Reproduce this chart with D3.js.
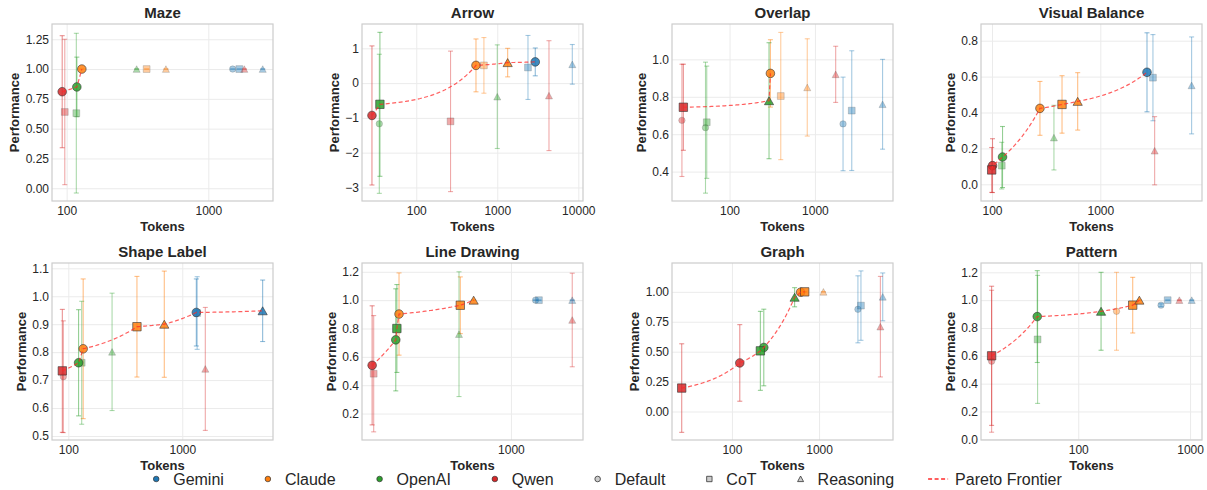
<!DOCTYPE html>
<html>
<head>
<meta charset="utf-8">
<script src="https://cdn.jsdelivr.net/npm/d3@7"></script>
<style>
  body { margin: 0; background: #fff; }
  text { font-family: "Liberation Sans", Arial, sans-serif; fill: #262626; }
</style>
</head>
<body>
<svg id="chart" width="1207" height="490"></svg>
<script>
// panel titles
const tasks = ["Maze", "Arrow", "Overlap", "Visual Balance", "Shape Label", "Line Drawing", "Graph", "Pattern"];
const models = ["Gemini", "Claude", "OpenAI", "Qwen"];
const modes = ["Default", "CoT", "Reasoning"];
const modelColors = ["#1f77b4", "#ff7f0e", "#2ca02c", "#d62728"];

// tokens used, rows = models (Gemini, Claude, OpenAI, Qwen), cols = modes (Default, CoT, Reasoning)
const tokens = [
  [[1486, 1655, 2421], [128, 367, 502], [118, 117, 312], [93, 97, 1795]],
  [[2944, 2393, 8433], [546, 684, 1343], [35, 35.6, 1000], [28.4, 265, 4346]],
  [[2133, 2698, 6194], [301, 398, 813], [52.3, 54.1, 290], [27.7, 28.8, 1749]],
  [[2698, 3062, 6967], [277, 443, 618], [125, 123, 373], [101, 99.3, 3175]],
  [[1328, 1350, 5070], [135, 400, 695], [123, 131, 242], [90.4, 88.6, 1592]],
  [[1436, 1509, 2462], [193, 475, 578], [184, 187, 466], [130, 133, 2462]],
  [[2793, 3026, 5380], [614, 684, 1122], [232, 212, 524], [123, 26.5, 5058]],
  [[550, 631, 1035], [220, 307, 352], [43, 43.3, 160], [16.8, 16.8, 802]]
];

// mean performance
const perf = [
  [[1.0, 1.0, 1.0], [1.0, 1.0, 1.0], [0.85, 0.63, 1.0], [0.81, 0.64, 1.0]],
  [[0.61, 0.45, 0.54], [0.51, 0.51, 0.59], [-1.17, -0.61, -0.39], [-0.93, -1.10, -0.36]],
  [[0.655, 0.726, 0.76], [0.925, 0.804, 0.85], [0.635, 0.664, 0.779], [0.674, 0.744, 0.92]],
  [[0.624, 0.594, 0.551], [0.423, 0.445, 0.462], [0.152, 0.104, 0.26], [0.104, 0.08, 0.187]],
  [[0.942, 0.94, 0.948], [0.812, 0.891, 0.90], [0.762, 0.762, 0.801], [0.712, 0.733, 0.74]],
  [[1.0, 1.0, 1.0], [0.902, 0.964, 1.0], [0.72, 0.80, 0.76], [0.54, 0.481, 0.86]],
  [[0.854, 0.885, 0.958], [0.997, 1.0, 1.0], [0.535, 0.507, 0.955], [0.406, 0.196, 0.709]],
  [[0.964, 1.0, 1.0], [0.92, 0.964, 1.0], [0.882, 0.718, 0.92], [0.561, 0.60, 1.0]]
];

// std (error bar half length)
const errs = [
  [[0, 0, 0], [0, 0, 0], [0.25, 0.67, 0], [0.47, 0.61, 0]],
  [[0.40, 0.92, 0.57], [0.76, 0.80, 0.41], [2.0, 2.07, 1.49], [2.0, 2.02, 1.58]],
  [[0.25, 0.32, 0.24], [0.18, 0.34, 0.26], [0.35, 0.30, 0.31], [0.30, 0.23, 0.15]],
  [[0.22, 0.24, 0.27], [0.15, 0.16, 0.16], [0.17, 0.13, 0.18], [0.15, 0.125, 0.19]],
  [[0.12, 0.13, 0.11], [0.25, 0.18, 0.19], [0.19, 0.22, 0.21], [0.20, 0.22, 0.22]],
  [[0, 0, 0], [0.29, 0.20, 0], [0.36, 0.31, 0.44], [0.42, 0.41, 0.33]],
  [[0.28, 0.29, 0.20], [0.02, 0, 0], [0.32, 0.33, 0.08], [0.32, 0.37, 0.42]],
  [[0.01, 0, 0], [0.28, 0.20, 0], [0.33, 0.46, 0.28], [0.51, 0.50, 0]]
];

// pareto frontier members as [model, mode]
const pareto = [
  [[3, 0], [2, 0], [1, 0]],
  [[3, 0], [2, 1], [1, 0], [1, 2], [0, 0]],
  [[3, 1], [2, 2], [1, 0]],
  [[3, 1], [3, 0], [2, 0], [1, 0], [1, 1], [1, 2], [0, 0]],
  [[3, 1], [2, 0], [1, 0], [1, 1], [1, 2], [0, 0], [0, 2]],
  [[3, 0], [2, 0], [2, 1], [1, 0], [1, 1], [1, 2]],
  [[3, 1], [3, 0], [2, 1], [2, 0], [2, 2], [1, 0], [1, 1]],
  [[3, 1], [2, 0], [2, 2], [1, 1], [1, 2]]
];

// axis ranges and ticks
const xDomains = [[78.8, 2862], [21.4, 11430], [21.2, 8204], [79.1, 8690], [71.9, 6250], [112, 2884], [20.5, 7060], [13.5, 1279]];
const yDomains = [[-0.107, 1.378], [-3.39, 1.70], [0.243, 1.189], [-0.093, 0.893], [0.4856, 1.119], [0.0135, 1.262], [-0.238, 1.241], [-0.005, 1.267]];
const xTicks = [[100, 1000], [100, 1000, 10000], [100, 1000], [100, 1000], [100, 1000], [1000], [100, 1000], [100, 1000]];
const yTicks = [
  [0, 0.25, 0.5, 0.75, 1.0, 1.25],
  [-3, -2, -1, 0, 1],
  [0.4, 0.6, 0.8, 1.0],
  [0, 0.2, 0.4, 0.6, 0.8],
  [0.5, 0.6, 0.7, 0.8, 0.9, 1.0, 1.1],
  [0.2, 0.4, 0.6, 0.8, 1.0, 1.2],
  [0, 0.25, 0.5, 0.75, 1.0],
  [0, 0.2, 0.4, 0.6, 0.8, 1.0, 1.2]
];
const yFormats = [".2f", "d", ".1f", ".1f", ".1f", ".1f", ".2f", ".1f"];

// layout
const colLeft = [52, 362, 672, 981];
const rowTop = [24, 263];
const pw = 221, ph = 177;

const svg = d3.select("#chart");

function markerPath(mode, big) {
  const p = d3.path();
  if (mode === 0) {
    const r = big ? 4.3 : 3.2;
    p.moveTo(r, 0);
    p.arc(0, 0, r, 0, 2 * Math.PI);
  } else if (mode === 1) {
    const h = big ? 4.2 : 3.4;
    p.rect(-h, -h, 2 * h, 2 * h);
  } else {
    const w = big ? 4.6 : 3.5, h = big ? 4.0 : 3.3;
    p.moveTo(0, -h);
    p.lineTo(w, h);
    p.lineTo(-w, h);
    p.closePath();
  }
  return p.toString();
}

// frontier is straight in token units, so sample it densely before it goes on the log axis
function frontierPath(front, x, y) {
  const out = [];
  for (let i = 0; i < front.length - 1; i++) {
    const a = front[i], b = front[i + 1];
    const steps = 40;
    for (let s = 0; s <= steps; s++) {
      if (i > 0 && s === 0) continue;
      const f = s / steps;
      out.push([x(a.tok + f * (b.tok - a.tok)), y(a.v + f * (b.v - a.v))]);
    }
  }
  return d3.line()(out);
}

tasks.forEach((task, t) => {
  const col = t % 4, row = Math.floor(t / 4);
  const g = svg.append("g").attr("transform", `translate(${colLeft[col]},${rowTop[row]})`);

  const x = d3.scaleLog().domain(xDomains[t]).range([0, pw]);
  const y = d3.scaleLinear().domain(yDomains[t]).range([ph, 0]);

  // grid + ticks
  const ya = g.append("g")
    .call(d3.axisLeft(y).tickValues(yTicks[t]).tickSize(-pw).tickPadding(3).tickFormat(d3.format(yFormats[t])));
  const xa = g.append("g").attr("transform", `translate(0,${ph})`)
    .call(d3.axisBottom(x).tickValues(xTicks[t]).tickSize(-ph).tickPadding(5).tickFormat(d3.format("d")));
  [ya, xa].forEach(a => {
    a.select(".domain").remove();
    a.selectAll("line").attr("stroke", "#ebebeb").attr("stroke-width", 1);
    a.selectAll("text").attr("font-size", 12).attr("fill", "#262626");
    a.attr("font-family", null);
  });

  g.append("rect").attr("width", pw).attr("height", ph)
    .attr("fill", "none").attr("stroke", "#cccccc").attr("stroke-width", 1.2);

  // points
  const isPar = (m, k) => pareto[t].some(p => p[0] === m && p[1] === k);
  const pts = [];
  models.forEach((mName, m) => {
    modes.forEach((kName, k) => {
      pts.push({ m, k, tok: tokens[t][m][k], v: perf[t][m][k], e: errs[t][m][k], par: isPar(m, k) });
    });
  });

  // error bars
  const eb = g.append("g").selectAll("g").data(pts).join("g")
    .attr("stroke", d => modelColors[d.m])
    .attr("stroke-opacity", d => d.par ? 0.5 : 0.4)
    .attr("stroke-width", 1.1);
  eb.append("line")
    .attr("x1", d => x(d.tok)).attr("x2", d => x(d.tok))
    .attr("y1", d => y(d.v - d.e)).attr("y2", d => y(d.v + d.e));
  eb.append("line")
    .attr("x1", d => x(d.tok) - 2.5).attr("x2", d => x(d.tok) + 2.5)
    .attr("y1", d => y(d.v - d.e)).attr("y2", d => y(d.v - d.e));
  eb.append("line")
    .attr("x1", d => x(d.tok) - 2.5).attr("x2", d => x(d.tok) + 2.5)
    .attr("y1", d => y(d.v + d.e)).attr("y2", d => y(d.v + d.e));

  // faded points first, frontier points on top
  const ordered = pts.filter(d => !d.par).concat(pts.filter(d => d.par));
  g.append("g").selectAll("path").data(ordered).join("path")
    .attr("transform", d => `translate(${x(d.tok)},${y(d.v)})`)
    .attr("d", d => markerPath(d.k, d.par))
    .attr("fill", d => modelColors[d.m])
    .attr("fill-opacity", d => d.par ? 0.85 : 0.4)
    .attr("stroke", d => d.par ? "#333" : "#666")
    .attr("stroke-opacity", d => d.par ? 0.75 : 0.35)
    .attr("stroke-width", 0.8);

  // pareto frontier
  const front = pts.filter(d => d.par).sort((a, b) => a.tok - b.tok);
  g.append("path")
    .attr("d", frontierPath(front, x, y))
    .attr("fill", "none")
    .attr("stroke", "#ff2a2a")
    .attr("stroke-opacity", 0.75)
    .attr("stroke-width", 1.2)
    .attr("stroke-dasharray", "4,2.5");

  // title and axis labels
  g.append("text").attr("x", pw / 2).attr("y", -6)
    .attr("text-anchor", "middle").attr("font-size", 15).attr("font-weight", "bold")
    .text(task);
  g.append("text").attr("x", pw / 2).attr("y", ph + 30)
    .attr("text-anchor", "middle").attr("font-size", 13).attr("font-weight", "bold")
    .text("Tokens");
  let maxW = 0;
  ya.selectAll("text").each(function () { maxW = Math.max(maxW, this.getComputedTextLength()); });
  g.append("text")
    .attr("transform", `translate(${-3 - maxW - 6.7},${ph / 2}) rotate(-90)`)
    .attr("text-anchor", "middle").attr("font-size", 13).attr("font-weight", "bold")
    .text("Performance");
});

// legend
const legendItems = models.map((m, i) => ({ label: m, kind: "model", i }))
  .concat(modes.map((m, i) => ({ label: m, kind: "mode", i })))
  .concat([{ label: "Pareto Frontier", kind: "line" }]);

const leg = svg.append("g");
const items = leg.selectAll("g").data(legendItems).join("g");
items.append("text").attr("x", 27).attr("y", 0).attr("dy", "0.35em")
  .attr("font-size", 16).text(d => d.label);
let cx = 0;
items.each(function (d) {
  const w = 27 + d3.select(this).select("text").node().getComputedTextLength();
  d.x = cx;
  cx += w + 34;
});
const total = cx - 34;
leg.attr("transform", `translate(${604 - total / 2},479)`);
items.attr("transform", d => `translate(${d.x},0)`);
items.each(function (d) {
  const s = d3.select(this);
  if (d.kind === "model") {
    s.append("circle").attr("cx", 10).attr("r", 2.8)
      .attr("fill", modelColors[d.i]).attr("stroke", "#333").attr("stroke-width", 0.7);
  } else if (d.kind === "mode") {
    const p = d3.path();
    if (d.i === 0) { p.moveTo(2.8, 0); p.arc(0, 0, 2.8, 0, 2 * Math.PI); }
    else if (d.i === 1) { p.rect(-2.7, -2.7, 5.4, 5.4); }
    else { p.moveTo(0, -3); p.lineTo(3, 2.6); p.lineTo(-3, 2.6); p.closePath(); }
    s.append("path").attr("transform", "translate(10,0)").attr("d", p.toString())
      .attr("fill", "#cccccc").attr("stroke", "#333").attr("stroke-width", 0.8);
  } else {
    s.append("line").attr("x1", 0).attr("x2", 20)
      .attr("stroke", "#ff2a2a").attr("stroke-width", 1.5).attr("stroke-dasharray", "4,2.5");
  }
});
</script>
</body>
</html>
